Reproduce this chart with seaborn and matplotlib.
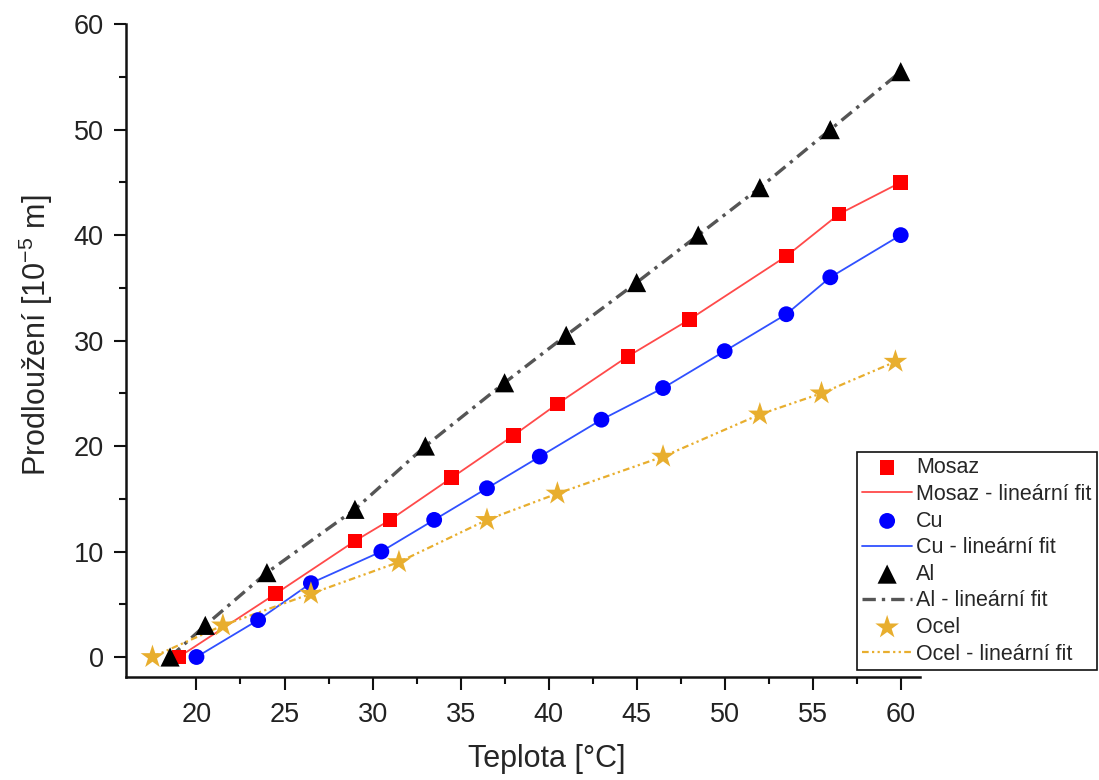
import matplotlib
matplotlib.use("Agg")
import matplotlib.pyplot as plt
import seaborn as sns

# values
mosaz_t = [19, 24.5, 29, 31, 34.5, 38, 40.5, 44.5, 48, 53.5, 56.5, 60]
mosaz_dl = [0, 6, 11, 13, 17, 21, 24, 28.5, 32, 38, 42, 45]

cu_t = [20, 23.5, 26.5, 30.5, 33.5, 36.5, 39.5, 43, 46.5, 50, 53.5, 56, 60]
cu_dl = [0, 3.5, 7, 10, 13, 16, 19, 22.5, 25.5, 29, 32.5, 36, 40]

al_t = [18.5, 20.5, 24, 29, 33, 37.5, 41, 45, 48.5, 52, 56, 60]
al_dl = [0, 3, 8, 14, 20, 26, 30.5, 35.5, 40, 44.5, 50, 55.5]

ocel_t = [17.5, 21.5, 26.5, 31.5, 36.5, 40.5, 46.5, 52, 55.5, 59.7]
ocel_dl = [0, 3, 6, 9, 13, 15.5, 19, 23, 25, 28]

x_ticks = [20, 25, 30, 35, 40, 45, 50, 55, 60]
y_ticks = [0, 10, 20, 30, 40, 50, 60]

sns.set_style("ticks")
plt.rcParams["font.family"] = ["Liberation Sans", "DejaVu Sans"]
plt.rcParams["mathtext.default"] = "regular"

fig = plt.figure(figsize=(10.99, 7.8), dpi=100)
ax = fig.add_axes([0.1147, 0.132, 0.7225, 0.837])

gold = "#E8AE2E"
series = [
    ("Mosaz", mosaz_t, mosaz_dl, "s", "#FF0000", 110,
     dict(color="#FF4A4A", linewidth=1.3, linestyle="-")),
    ("Cu", cu_t, cu_dl, "o", "#0000FF", 130,
     dict(color="#3050FF", linewidth=1.3, linestyle="-")),
    ("Al", al_t, al_dl, "^", "#000000", 190,
     dict(color="#555555", linewidth=2.4, dashes=(4, 1.8, 1, 1.8))),
    ("Ocel", ocel_t, ocel_dl, "*", gold, 320,
     dict(color=gold, linewidth=1.6, dashes=(3, 1.5, 1, 1.5, 1, 1.5))),
]

for name, t, dl, marker, color, size, line_kw in series:
    sns.scatterplot(x=t, y=dl, marker=marker, color=color, s=size,
                    edgecolor="none", ax=ax, label=name, zorder=3)
    sns.lineplot(x=t, y=dl, sort=False, estimator=None, ax=ax,
                 label=name + " - lineární fit", zorder=2, **line_kw)

ax.set_xlim(16, 61.1)
ax.set_ylim(-1.9, 60)
ax.set_xticks(x_ticks)
ax.set_yticks(y_ticks)
ax.set_xticks([22.5, 27.5, 32.5, 37.5, 42.5, 47.5, 52.5, 57.5], minor=True)
ax.set_yticks([5, 15, 25, 35, 45, 55], minor=True)
sns.despine(ax=ax)
for sp in ["left", "bottom"]:
    ax.spines[sp].set_linewidth(1.8)
    ax.spines[sp].set_color("#111111")
ax.tick_params(which="major", length=9, width=1.5, labelsize=19.5,
               labelcolor="#222222", color="#111111", pad=7)
ax.tick_params(axis="x", which="major", pad=9)
ax.tick_params(which="minor", length=5, width=1.5, color="#111111")

ax.set_xlabel("Teplota [°C]", fontsize=22)
ax.set_ylabel("Prodloužení [10$^{-5}$ m]", fontsize=22)
ax.xaxis.set_label_coords(0.53, -0.103)
ax.yaxis.set_label_coords(-0.089, 0.523)

handles, labels = ax.get_legend_handles_labels()
ax.get_legend().remove()
leg = fig.legend(handles, labels, loc="upper left",
                 bbox_to_anchor=(857 / 1099, 1 - 452 / 780),
                 bbox_transform=fig.transFigure, borderaxespad=0,
                 fontsize=15.5, labelspacing=0.26, handlelength=2.3,
                 handletextpad=0.2, borderpad=0.25, fancybox=False,
                 framealpha=1, edgecolor="#111111")
leg.get_frame().set_linewidth(1.2)

fig.savefig("out.png", dpi=100)
